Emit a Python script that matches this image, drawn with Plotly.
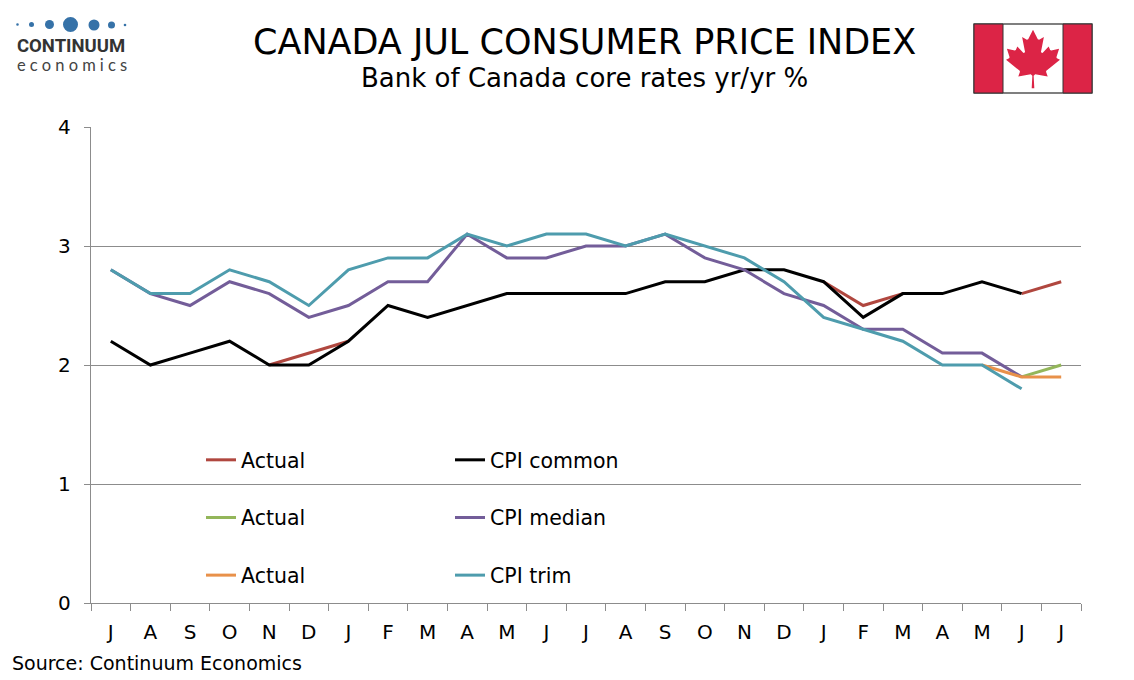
import plotly.graph_objects as go

months = ["J", "A", "S", "O", "N", "D", "J", "F", "M", "A", "M", "J", "J",
          "A", "S", "O", "N", "D", "J", "F", "M", "A", "M", "J", "J"]

cpi_common = [2.2, 2.0, 2.1, 2.2, 2.0, 2.0, 2.2, 2.5, 2.4, 2.5, 2.6, 2.6, 2.6,
              2.6, 2.7, 2.7, 2.8, 2.8, 2.7, 2.4, 2.6, 2.6, 2.7, 2.6, None]
cpi_median = [2.8, 2.6, 2.5, 2.7, 2.6, 2.4, 2.5, 2.7, 2.7, 3.1, 2.9, 2.9, 3.0,
              3.0, 3.1, 2.9, 2.8, 2.6, 2.5, 2.3, 2.3, 2.1, 2.1, 1.9, None]
cpi_trim = [2.8, 2.6, 2.6, 2.8, 2.7, 2.5, 2.8, 2.9, 2.9, 3.1, 3.0, 3.1, 3.1,
            3.0, 3.1, 3.0, 2.9, 2.7, 2.4, 2.3, 2.2, 2.0, 2.0, 1.8, None]
actual_common = [None, None, None, None, 2.0, 2.1, 2.2, None, None, None, None, None, None,
                 None, None, None, None, None, 2.7, 2.5, 2.6, None, None, 2.6, 2.7]
actual_median = [None] * 23 + [1.9, 2.0]
actual_trim = [None] * 22 + [2.0, 1.9, 1.9]

y_ticks = [0, 1, 2, 3, 4]

W, H = 1134, 680
L, R, T, B = 91, 53, 127, 77
PW, PH = W - L - R, H - T - B


def px(x):
    return (x - L) / PW


def py(y):
    return (H - B - y) / PH


xs = list(range(len(months)))
FONT = "DejaVu Sans"

series = [
    ("Actual", actual_common, "#B0473F", "legend"),
    ("CPI common", cpi_common, "#000000", "legend2"),
    ("Actual", actual_median, "#93B65A", "legend"),
    ("CPI median", cpi_median, "#735D99", "legend2"),
    ("Actual", actual_trim, "#E8914A", "legend"),
    ("CPI trim", cpi_trim, "#4E9CAD", "legend2"),
]

fig = go.Figure()
for i, (name, vals, color, leg) in enumerate(series):
    fig.add_trace(go.Scatter(
        x=xs, y=vals, name=name, mode="lines",
        line=dict(color=color, width=3),
        legend=leg, legendgroup=f"g{i}",
        connectgaps=False,
    ))

shapes = []
# logo dots
dot_color = "#3672A8"
for cx, cy, r in [(17.5, 24.5, 1.3), (31.5, 24.5, 2.5), (49.5, 24.5, 4.5),
                  (70.5, 24.5, 7.5), (94, 25, 5.5), (111.5, 25, 3.5), (125, 25, 1.3)]:
    shapes.append(dict(type="circle", xref="paper", yref="paper",
                       x0=px(cx - r), x1=px(cx + r), y0=py(cy + r), y1=py(cy - r),
                       fillcolor=dot_color, line=dict(width=0), layer="above"))

# flag
fx0, fx1, fy0, fy1 = 974, 1092, 24, 93
shapes.append(dict(type="rect", xref="paper", yref="paper",
                   x0=px(fx0), x1=px(fx1), y0=py(fy1), y1=py(fy0),
                   fillcolor="white", line=dict(color="#555555", width=1.5)))
for a, b in [(fx0, 1003), (1063, fx1)]:
    shapes.append(dict(type="rect", xref="paper", yref="paper",
                       x0=px(a), x1=px(b), y0=py(fy1), y1=py(fy0),
                       fillcolor="#DC2446", line=dict(color="#333333", width=1)))
leaf_rel = [(45, -863), (-111, -98), (-859, 151), (116, -320), (-20, -73), (-941, -762),
            (212, -99), (34, -79), (-186, -572), (542, 115), (73, -38), (105, -247),
            (423, 454), (111, -57), (-204, -1052), (327, 189), (91, -27), (332, -652),
            (332, 652), (91, 27), (327, -189), (-204, 1052), (111, 57), (423, -454),
            (105, 247), (73, 38), (542, -115), (-186, 572), (34, 79), (212, 99),
            (-941, 762), (-20, 73), (116, 320), (-859, -151), (-111, 98), (45, 863)]
pts = [(-90, 2030)]
for dx, dy in leaf_rel:
    pts.append((pts[-1][0] + dx, pts[-1][1] + dy))
s = 0.0145
lcx, lcy = 1033, 59
path = "M " + " L ".join(f"{px(lcx + x * s):.5f},{py(lcy + (y - 15) * s):.5f}" for x, y in pts) + " Z"
shapes.append(dict(type="path", xref="paper", yref="paper", path=path,
                   fillcolor="#DC2446", line=dict(width=0)))

sp = "\u2005"
annotations = [
    dict(text="CANADA JUL CONSUMER PRICE INDEX", x=px(584), y=py(42), xref="paper", yref="paper",
         xanchor="center", yanchor="middle", showarrow=False,
         font=dict(family=FONT, size=35, color="#000000")),
    dict(text="Bank of Canada core rates yr/yr %", x=px(584), y=py(78), xref="paper", yref="paper",
         xanchor="center", yanchor="middle", showarrow=False,
         font=dict(family=FONT, size=26, color="#000000")),
    dict(text="Source: Continuum Economics", x=px(10), y=py(663), xref="paper", yref="paper",
         xanchor="left", yanchor="middle", showarrow=False,
         font=dict(family=FONT, size=19, color="#000000")),
    dict(text="<b>CONTINUUM</b>", x=px(15), y=py(46), xref="paper", yref="paper",
         xanchor="left", yanchor="middle", showarrow=False,
         font=dict(family="Roboto", size=18.5, color="#333333")),
    dict(text=sp.join("economics"), x=px(15), y=py(65),
         xref="paper", yref="paper", xanchor="left", yanchor="middle", showarrow=False,
         font=dict(family="Lato", size=16.5, color="#444444")),
]

fig.update_layout(
    width=W, height=H,
    margin=dict(l=L, r=R, t=T, b=B, autoexpand=False),
    paper_bgcolor="white", plot_bgcolor="white",
    font=dict(family=FONT, size=20, color="#000000"),
    shapes=shapes, annotations=annotations,
    legend=dict(x=px(201), y=py(440), xanchor="left", yanchor="top",
                font=dict(family=FONT, size=20.5), tracegroupgap=28,
                bgcolor="rgba(0,0,0,0)", itemwidth=30),
    legend2=dict(x=px(450), y=py(440), xanchor="left", yanchor="top",
                 font=dict(family=FONT, size=20.5), tracegroupgap=28,
                 bgcolor="rgba(0,0,0,0)", itemwidth=30),
    xaxis=dict(range=[-0.5, len(months) - 0.5], tickmode="array", tickvals=xs, ticktext=months,
               ticks="", showgrid=False, zeroline=False, showline=True,
               linecolor="#8c8c8c", linewidth=1.3,
               tickfont=dict(family=FONT, size=20), ticklabelstandoff=11,
               minor=dict(tickmode="linear", tick0=-0.5, dtick=1, ticks="outside",
                          ticklen=7, tickcolor="#8c8c8c", tickwidth=1.3, showgrid=False)),
    yaxis=dict(range=[0, 4], tickmode="array", tickvals=y_ticks, ticks="outside", ticklen=6,
               tickcolor="#8c8c8c", tickwidth=1.3, showgrid=True, gridcolor="#8c8c8c",
               gridwidth=1.1, zeroline=False, showline=True, linecolor="#8c8c8c", linewidth=1.3,
               tickfont=dict(family=FONT, size=20), ticklabelstandoff=9),
)

fig.write_html("out.html", config={"displayModeBar": False},
               post_script="document.body.style.margin='0px';document.body.style.overflow='hidden';")
